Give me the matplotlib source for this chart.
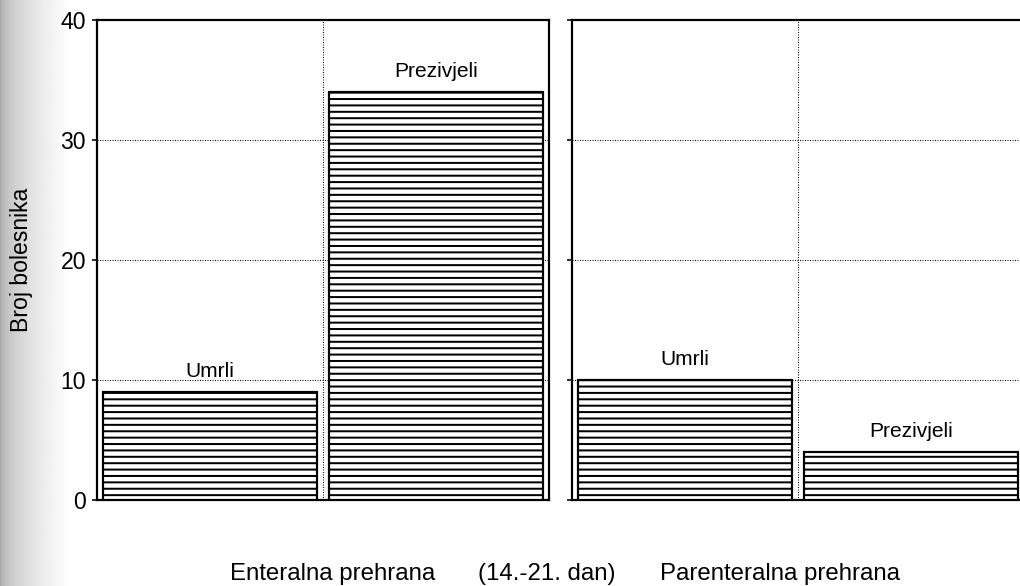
import numpy as np
import matplotlib
matplotlib.use('Agg')
import matplotlib.pyplot as plt

DPI = 115


def px(v):
    # pikseli -> tocke
    return v * 72 / DPI


plt.rcParams['font.family'] = ['Liberation Sans', 'DejaVu Sans']
plt.rcParams['hatch.linewidth'] = px(2.0)

# Podaci
kategorije = ['Umrli', 'Prezivjeli']
enteralna = [9, 34]
parenteralna = [10, 4]
y_ticks = [0, 10, 20, 30, 40]

fig = plt.figure(figsize=(1020 / DPI, 586 / DPI), dpi=DPI)

# sivi rub skena lijevo
grad = np.linspace(0.0, 1.0, 80)
grad = 0.66 + 0.34 * np.clip(grad, 0, 1) ** 0.5
bg = fig.add_axes([0, 0, 70 / 1020, 1], zorder=-10)
bg.imshow(np.tile(grad, (10, 1)), cmap='gray', vmin=0, vmax=1, aspect='auto',
          extent=[0, 1, 0, 1])
bg.axis('off')

w = 452 / 1020
h = 480 / 586
y0 = 1 - 500 / 586
ax1 = fig.add_axes([97 / 1020, y0, w, h])
ax2 = fig.add_axes([572 / 1020, y0, w, h])

for ax, vrijednosti in [(ax1, enteralna), (ax2, parenteralna)]:
    x = np.arange(len(kategorije))
    bars = ax.bar(x, vrijednosti, width=0.95, color='white', edgecolor='black',
                  hatch='---', linewidth=px(2.2), zorder=3)
    for b, lab in zip(bars, kategorije):
        ax.annotate(lab, (b.get_x() + b.get_width() / 2, b.get_height()),
                    xytext=(0, px(15)), textcoords='offset points',
                    ha='center', va='baseline', fontsize=px(21))
    ax.set_xlim(-0.5, 1.5)
    ax.set_ylim(0, 40)
    ax.set_yticks(y_ticks)
    ax.set_xticks([])
    # mreza
    for yv in y_ticks[1:-1]:
        ax.axhline(yv, color='black', linestyle=(0, (1, 1.5)), linewidth=px(1), zorder=1)
    ax.axvline(0.5, color='black', linestyle=(0, (1, 1.5)), linewidth=px(1), zorder=1)
    for s in ax.spines.values():
        s.set_linewidth(px(2.2))
    ax.tick_params(axis='y', direction='out', length=px(5), width=px(1.6),
                   labelsize=px(23), pad=px(6))

ax2.tick_params(axis='y', labelleft=False)

ax1.set_ylabel('Broj bolesnika', fontsize=px(23))
ax1.yaxis.set_label_coords(-64 / 452, 0.5)

yb = 1 - 580 / 586
fig.text(230 / 1020, yb, 'Enteralna prehrana', ha='left', va='baseline', fontsize=px(24))
fig.text(478 / 1020, yb, '(14.-21. dan)', ha='left', va='baseline', fontsize=px(24))
fig.text(660 / 1020, yb, 'Parenteralna prehrana', ha='left', va='baseline', fontsize=px(24))

fig.savefig('out.png', dpi=DPI)
